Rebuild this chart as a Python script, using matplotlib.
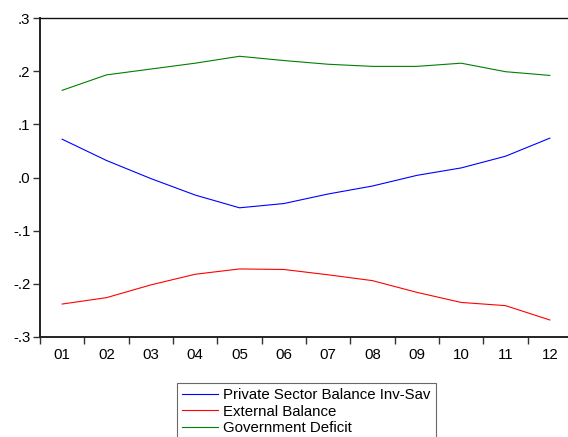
"""Sectoral balances line chart (EViews-style) -> out.png"""
import matplotlib
matplotlib.use("Agg")
import matplotlib.pyplot as plt
from matplotlib.ticker import FixedLocator, FuncFormatter

# data
periods = ["01", "02", "03", "04", "05", "06", "07", "08", "09", "10", "11", "12"]
private_bal = [0.072, 0.032, -0.002, -0.033, -0.057, -0.049,
               -0.031, -0.016, 0.004, 0.018, 0.040, 0.074]
external_bal = [-0.238, -0.226, -0.202, -0.182, -0.172, -0.173,
                -0.183, -0.194, -0.216, -0.235, -0.241, -0.268]
gov_deficit = [0.164, 0.193, 0.204, 0.215, 0.228, 0.220,
               0.213, 0.209, 0.209, 0.215, 0.199, 0.192]
y_ticks = [0.3, 0.2, 0.1, 0.0, -0.1, -0.2, -0.3]

plt.rcParams["font.family"] = ["Liberation Sans", "DejaVu Sans"]
FS = 10.8

fig = plt.figure(figsize=(5.68, 4.37), dpi=100)
# plot frame runs past the right edge of the picture, as in the reference
ax = fig.add_axes([40 / 568, 100 / 437, 532 / 568, 319 / 437])

x = list(range(len(periods)))
ax.plot(x, private_bal, color="#0000ff", lw=0.8, label="Private Sector Balance Inv-Sav")
ax.plot(x, external_bal, color="#ff0000", lw=0.8, label="External Balance")
ax.plot(x, gov_deficit, color="#008000", lw=0.8, label="Government Deficit")

ax.set_xlim(-0.5, len(periods) - 0.5)
ax.set_ylim(-0.3, 0.3)

# category labels centred, tick marks on the boundaries
ax.set_xticks(x)
ax.set_xticklabels(periods, fontsize=FS)
ax.tick_params(axis="x", which="major", length=0, pad=8)
ax.xaxis.set_minor_locator(FixedLocator([i - 0.5 for i in range(len(periods) + 1)]))
ax.tick_params(axis="x", which="minor", length=5, width=1, direction="out", color="#333333")

def _fmt(v, _):
    s = f"{v:.1f}"
    return s.replace("0.", ".", 1)

ax.yaxis.set_major_locator(FixedLocator(y_ticks))
ax.yaxis.set_major_formatter(FuncFormatter(_fmt))
ax.tick_params(axis="y", length=5, width=1, direction="out", color="#333333",
               labelsize=FS, pad=2)

for side in ("left", "bottom"):
    ax.spines[side].set_linewidth(1.4)
    ax.spines[side].set_color("#222222")
ax.spines["top"].set_linewidth(1.0)
ax.spines["top"].set_color("#111111")

# legend box sits low and is cut by the bottom edge, as in the reference
leg = fig.legend(loc="upper left", bbox_to_anchor=(177 / 568, 1 - 383 / 437),
                 fontsize=FS, frameon=True, fancybox=False, edgecolor="#444444",
                 handlelength=2.4, handletextpad=0.35, labelspacing=0.15,
                 borderpad=0.35, borderaxespad=0)
leg.get_frame().set_linewidth(0.8)

fig.savefig("out.png", dpi=100)
